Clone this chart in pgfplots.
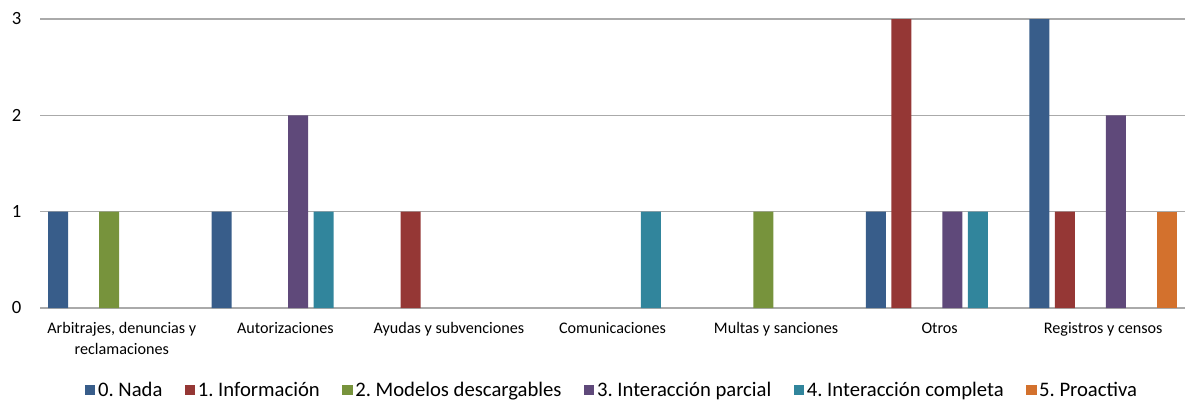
\documentclass[border=0pt]{standalone}
\usepackage{fontspec}
\setmainfont{Carlito}
\usepackage{pgfplots}
\pgfplotsset{compat=1.18}
\frenchspacing
\definecolor{cA}{HTML}{385D8A}
\definecolor{cB}{HTML}{953735}
\definecolor{cC}{HTML}{77933C}
\definecolor{cD}{HTML}{5F497A}
\definecolor{cE}{HTML}{31859C}
\definecolor{cF}{HTML}{D3712D}
\definecolor{gridc}{HTML}{AAAAAA}
\begin{document}
\begin{tikzpicture}
\useasboundingbox (0,0) rectangle (888.75pt,300pt);
\begin{axis}[
  at={(30pt,69pt)}, anchor=south west,
  scale only axis, width=858.75pt, height=216.75pt,
  xmin=-0.5, xmax=6.5, ymin=0, ymax=3,
  ybar=0pt, bar width=0.1222,
  axis line style={draw=none},
  ymajorgrids, major grid style={gridc, line width=0.9pt},
  ytick={0,1,2,3}, major tick length=0pt,
  yticklabel style={font=\fontsize{14}{16}\selectfont, xshift=-10.5pt},
  /pgf/number format/assume math mode=true,
  xtick={0,...,6},
  xticklabels={{Arbitrajes, denuncias y\\reclamaciones},Autorizaciones,Ayudas y subvenciones,Comunicaciones,Multas y sanciones,Otros,Registros y censos},
  xticklabel style={align=center, font=\fontsize{12.1}{15.75}\selectfont, yshift=-7.5pt},
  legend columns=-1,
  legend style={at={(0.5,-0.2837)}, anchor=center, draw=none, font=\fontsize{15.5}{18}\selectfont,
    /tikz/every even column/.append style={column sep=15pt}},
  legend image code/.code={\fill[#1] (0pt,-3.8pt) rectangle (7.6pt,3.8pt);},
]
\addplot[fill=cA, draw=none, bar shift=-0.3898] coordinates {(0,1) (1,1) (5,1) (6,3)};
\addplot[fill=cB, draw=none, bar shift=-0.2339] coordinates {(2,1) (5,3) (6,1)};
\addplot[fill=cC, draw=none, bar shift=-0.0780] coordinates {(0,1) (4,1)};
\addplot[fill=cD, draw=none, bar shift=0.0780] coordinates {(1,2) (5,1) (6,2)};
\addplot[fill=cE, draw=none, bar shift=0.2339] coordinates {(1,1) (3,1) (5,1)};
\addplot[fill=cF, draw=none, bar shift=0.3898] coordinates {(6,1)};
\legend{0. Nada,1. Información,2. Modelos descargables,3. Interacción parcial,4. Interacción completa,5. Proactiva}
\end{axis}
\end{tikzpicture}
\end{document}
